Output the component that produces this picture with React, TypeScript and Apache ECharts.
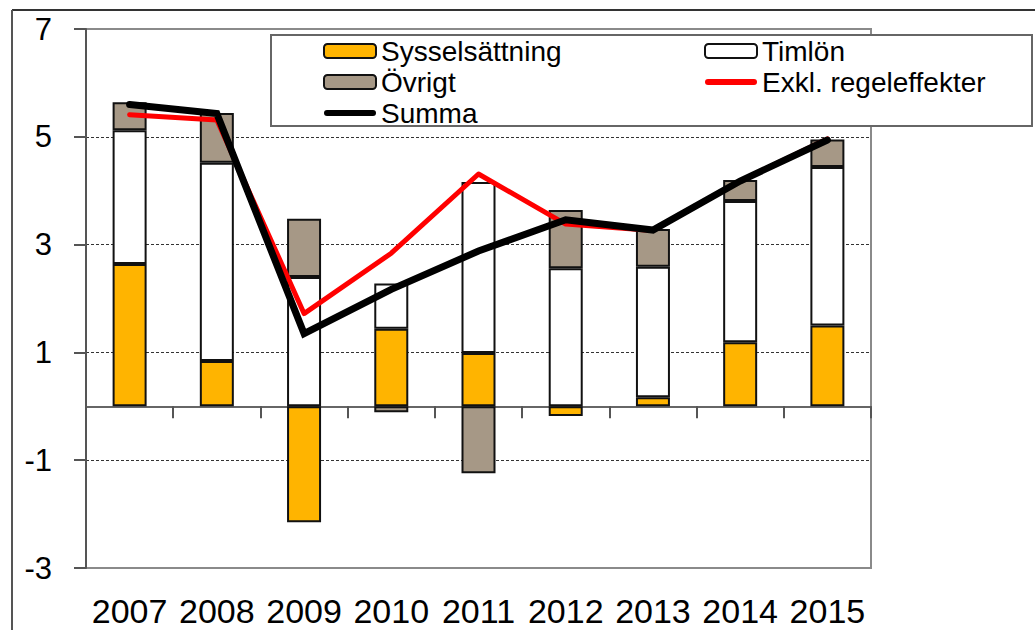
import React, { useEffect, useRef } from "react";
import * as echarts from "echarts";

const years = ["2007", "2008", "2009", "2010", "2011", "2012", "2013", "2014", "2015"];
const sysselsattning = [2.64, 0.84, -2.15, 1.44, 0.99, -0.18, 0.17, 1.19, 1.5];
const timlon = [2.48, 3.68, 2.4, 0.84, 3.17, 2.56, 2.42, 2.62, 2.94];
const ovrigt = [0.52, 0.92, 1.08, -0.11, -1.24, 1.08, 0.7, 0.39, 0.51];
const exkl = [5.41, 5.31, 1.72, 2.84, 4.31, 3.38, 3.26, 4.18, 4.96];
const summa = [5.6, 5.43, 1.35, 2.17, 2.88, 3.46, 3.27, 4.18, 4.94];
const yTickLabels = ["-3", "-1", "1", "3", "5", "7"];

const FONT = "'Liberation Sans', Arial, sans-serif";
const LINE_ICON = "path://M3,0 L49,0 A3,3 0 0 1 49,6 L3,6 A3,3 0 0 1 3,0 Z";

export default function App() {
  const ref = useRef<HTMLDivElement>(null);
  useEffect(() => {
    if (!ref.current) return;
    const chart = echarts.init(ref.current, null, { renderer: "svg" });
    const barBase = {
      type: "bar",
      stack: "a",
      barWidth: 34,
      xAxisIndex: 0,
      yAxisIndex: 1,
    };
    const legendBase = {
      orient: "vertical",
      top: 37,
      padding: 0,
      itemWidth: 52,
      itemHeight: 14,
      itemGap: 3,
      selectedMode: false,
      textStyle: { fontSize: 28, lineHeight: 28, color: "#000", fontFamily: FONT },
      z: 10,
    };
    chart.setOption({
      animation: false,
      backgroundColor: "#fff",
      textStyle: { fontFamily: FONT },
      grid: {
        left: 86,
        top: 29,
        right: 164,
        bottom: 62,
        show: true,
        borderColor: "#8a8a8a",
        borderWidth: 2,
        backgroundColor: "#fff",
      },
      xAxis: [
        {
          type: "category",
          data: years,
          position: "bottom",
          axisLine: { show: false, onZero: false },
          axisTick: { show: false },
          axisLabel: {
            interval: 0,
            fontSize: 34,
            lineHeight: 28,
            color: "#000",
            margin: 29,
            fontFamily: FONT,
          },
          splitLine: { show: false },
        },
        {
          type: "category",
          data: years,
          position: "bottom",
          axisLine: {
            show: true,
            onZero: true,
            onZeroAxisIndex: 1,
            lineStyle: { color: "#666", width: 2 },
          },
          axisTick: { show: true, length: 12, lineStyle: { color: "#555", width: 2 } },
          axisLabel: { show: false },
          splitLine: { show: false },
        },
      ],
      yAxis: [
        {
          type: "value",
          min: 0,
          max: 10,
          interval: 2,
          position: "left",
          axisLine: { show: true, lineStyle: { color: "#555", width: 2 } },
          axisTick: { show: true, length: 12, lineStyle: { color: "#555", width: 2 } },
          axisLabel: {
            fontSize: 31,
            color: "#000",
            margin: 34,
            fontFamily: FONT,
            formatter: (v: number) => yTickLabels[Math.round(v / 2)] ?? "",
          },
          splitLine: {
            show: true,
            showMinLine: false,
            showMaxLine: false,
            lineStyle: { color: "#333", width: 1, type: [3, 2] },
          },
        },
        {
          type: "value",
          min: -3,
          max: 7,
          show: false,
          splitLine: { show: false },
        },
      ],
      legend: [
        {
          ...legendBase,
          left: 323,
          data: [
            "Sysselsättning",
            "Övrigt",
            { name: "Summa", icon: LINE_ICON, itemStyle: { color: "#000", borderWidth: 0 } },
          ],
        },
        {
          ...legendBase,
          left: 704,
          data: [
            "Timlön",
            {
              name: "Exkl. regeleffekter",
              icon: LINE_ICON,
              itemStyle: { color: "#FF0000", borderWidth: 0 },
            },
          ],
        },
      ],
      graphic: [
        {
          type: "line",
          shape: { x1: 12, y1: 10, x2: 1035, y2: 10 },
          style: { stroke: "#333", lineWidth: 2 },
          z: 1,
        },
        {
          type: "line",
          shape: { x1: 12, y1: 10, x2: 12, y2: 630 },
          style: { stroke: "#555", lineWidth: 2 },
          z: 1,
        },
        {
          type: "rect",
          shape: { x: 271, y: 35, width: 761, height: 91 },
          style: { fill: "#fff", stroke: "#666", lineWidth: 2 },
          z: 5,
        },
      ],
      series: [
        {
          ...barBase,
          name: "Sysselsättning",
          data: sysselsattning,
          itemStyle: { color: "#FFB400", borderColor: "#111", borderWidth: 2 },
        },
        {
          ...barBase,
          name: "Timlön",
          data: timlon,
          itemStyle: { color: "#fff", borderColor: "#111", borderWidth: 2 },
        },
        {
          ...barBase,
          name: "Övrigt",
          data: ovrigt,
          itemStyle: { color: "#A69886", borderColor: "#111", borderWidth: 2 },
        },
        {
          type: "line",
          name: "Exkl. regeleffekter",
          data: exkl,
          xAxisIndex: 0,
          yAxisIndex: 1,
          symbol: "none",
          itemStyle: { color: "#FF0000" },
          lineStyle: { color: "#FF0000", width: 5, cap: "round", join: "round" },
          z: 3,
        },
        {
          type: "line",
          name: "Summa",
          data: summa,
          xAxisIndex: 0,
          yAxisIndex: 1,
          symbol: "none",
          itemStyle: { color: "#000" },
          lineStyle: { color: "#000", width: 7, cap: "round", join: "miter" },
          z: 4,
        },
      ],
    });
    return () => chart.dispose();
  }, []);
  return (
    <div
      ref={ref}
      style={{ position: "fixed", left: 0, top: 0, width: 1035, height: 630 }}
    />
  );
}
